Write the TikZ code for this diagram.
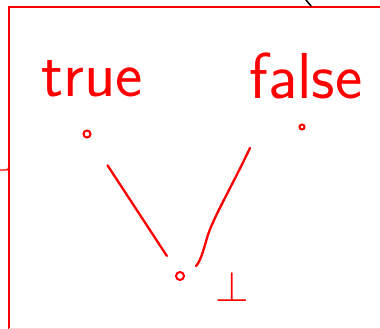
\documentclass[tikz,border=0pt]{standalone}
\begin{document}
\begin{tikzpicture}[x=1pt,y=-1pt,
  ink/.style={draw=red,line width=2.3pt,line cap=round,line join=round},
  dotnode/.style={circle,draw=red,line width=2pt,inner sep=0pt,minimum size=#1},
  word/.style={text=red,font=\sffamily\fontsize{65}{66}\selectfont,inner sep=0pt,anchor=base}]
\useasboundingbox (0,0) rectangle (380,329);
\fill[white] (0,0) rectangle (380,329);
% frame
\draw[draw=red,line width=1.4pt] (380,7) -- (9,7) -- (9,329);
\draw[draw=red!18,line width=0.8pt] (9,328) -- (380,328);
\draw[draw=red,line width=1.3pt] (0,170) -- (6,170) .. controls (8,170) .. (9,166);
\draw[black,line width=1.6pt,line cap=round] (306,0) -- (311,6);
% labels
\node[word] (tl) at (92,96) {true};
\node[word] (fl) at (306,99) {false};
% dots
\node[dotnode=7pt] (t) at (87,134) {};
\node[dotnode=5pt] (f) at (302,127) {};
\node[dotnode=8pt] (b) at (180,276) {};
% connectors
\draw[ink,shorten <=33pt,shorten >=19pt] (t) -- (b);
\coordinate (fs) at (250,148);
\coordinate (fe) at (196,266);
\draw[ink] (fs) .. controls (230,190) and (212,220) .. (207,238) .. controls (203,252) and (200,262) .. (fe);
% bottom symbol
\node[text=red,scale=4.3,inner sep=0pt] (bot) at (232,287) {$\bot$};
\end{tikzpicture}
\end{document}
